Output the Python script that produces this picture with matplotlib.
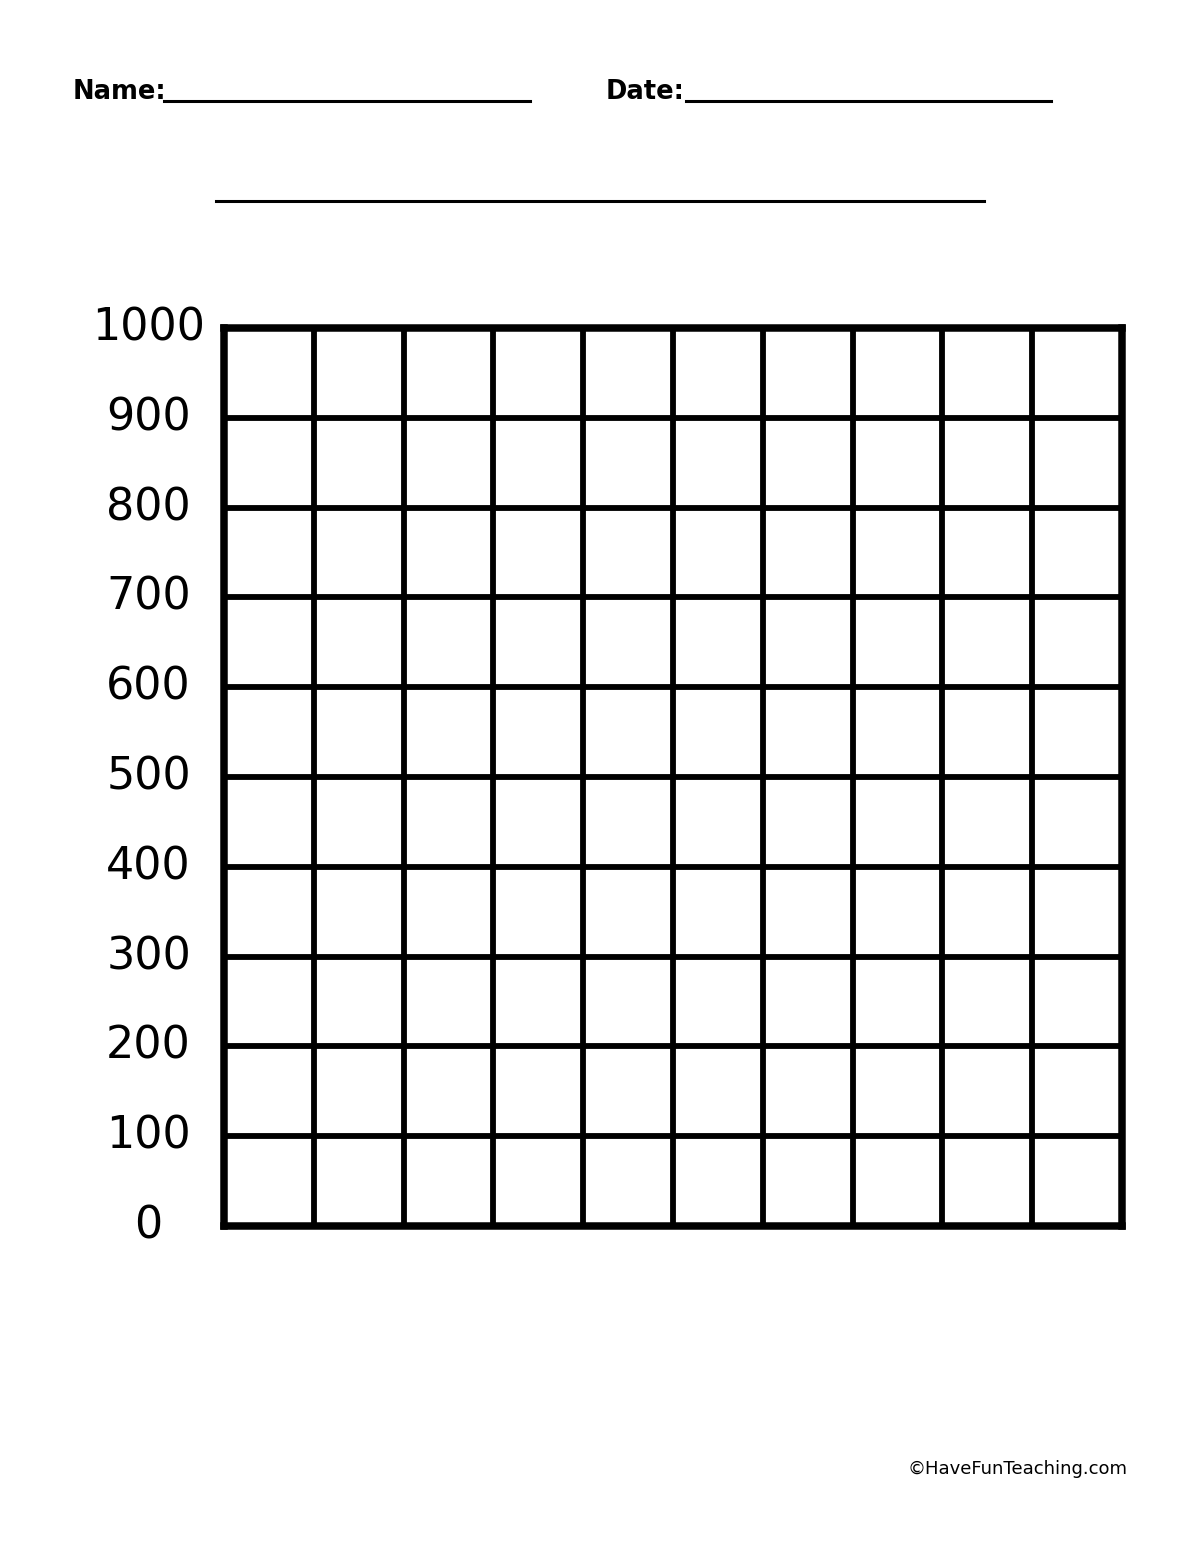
import matplotlib
matplotlib.use('Agg')
from matplotlib import pyplot as plt
from matplotlib.lines import Line2D

# Worksheet content
y_ticks = [0, 100, 200, 300, 400, 500, 600, 700, 800, 900, 1000]
y_labels = ['0', '100', '200', '300', '400', '500', '600', '700', '800', '900', '1000']
n_columns = 10
header_labels = ['Name:', 'Date:']
footer_text = '\u00a9HaveFunTeaching.com'

W, H = 1200, 1552
fig = plt.figure(figsize=(W / 100, H / 100), dpi=100)
fig.patch.set_facecolor('white')


def fx(px):
    return px / W


def fy(py):
    return 1 - py / H


# Grid axes
ax = fig.add_axes([fx(224), fy(1226), fx(1122) - fx(224), fy(328) - fy(1226)])
ax.set_xlim(0, n_columns)
ax.set_ylim(y_ticks[0], y_ticks[-1])
for x in range(1, n_columns):
    ax.axvline(x, color='black', lw=4.2)
for y in y_ticks[1:-1]:
    ax.axhline(y, color='black', lw=4.2)
for s in ax.spines.values():
    s.set_linewidth(5.4)
    s.set_color('black')
ax.set_xticks([])
ax.set_yticks([])

# Y labels, centred to the left of the grid
for v, lab in zip(y_ticks, y_labels):
    ax.text(-0.84, v, lab, ha='center', va='center', fontsize=32,
            family='DejaVu Sans', transform=ax.transData, clip_on=False)

# Header: Name / Date with underlines
fig.text(fx(73), fy(99), header_labels[0], fontsize=18.5, fontweight='bold',
         ha='left', va='baseline', family='DejaVu Sans')
fig.add_artist(Line2D([fx(164), fx(530)], [fy(101), fy(101)], color='black',
                      lw=2.2, transform=fig.transFigure))
fig.text(fx(606), fy(99), header_labels[1], fontsize=18.5, fontweight='bold',
         ha='left', va='baseline', family='DejaVu Sans')
fig.add_artist(Line2D([fx(686), fx(1051)], [fy(101), fy(101)], color='black',
                      lw=2.2, transform=fig.transFigure))

# Title line
fig.add_artist(Line2D([fx(216), fx(984)], [fy(201), fy(201)], color='black',
                      lw=2.2, transform=fig.transFigure))

# Footer
fig.text(fx(1128), fy(1469), footer_text, fontsize=13, ha='right', va='center',
         family='DejaVu Sans')

fig.savefig('out.png', dpi=100, facecolor='white')
